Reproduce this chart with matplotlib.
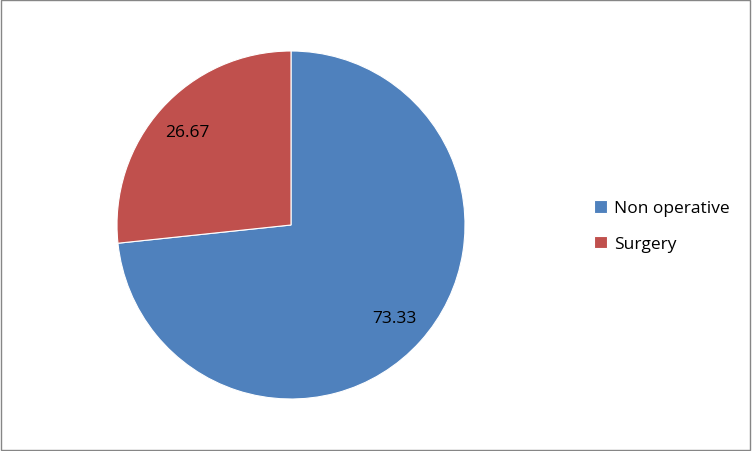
import matplotlib
matplotlib.use("Agg")
from matplotlib import pyplot as plt
from matplotlib.patches import Rectangle

plt.rcParams['font.family'] = ['Open Sans', 'DejaVu Sans']

categories = ['Non operative', 'Surgery']
values = [73.33, 26.67]
colors = ['#4F81BD', '#C0504D']

fig = plt.figure(figsize=(7.52, 4.52), dpi=100)
ax = fig.add_axes([117 / 752, 52 / 452, 348 / 752, 348 / 452])

wedges, texts, autotexts = ax.pie(values, colors=colors, startangle=90, counterclock=False,
                                  autopct=lambda p: '%.2f' % p, pctdistance=0.8,
                                  wedgeprops=dict(linewidth=0.8, edgecolor='white'))
for t in autotexts:
    t.set_fontsize(12.5)
    t.set_color('black')
ax.set_xlim(-1, 1)
ax.set_ylim(-1, 1)
ax.set_aspect('equal')

fig.legend(wedges, categories, loc='center left', bbox_to_anchor=(578 / 752, 225 / 452),
           frameon=False, fontsize=12.5, handlelength=0.75, handleheight=0.75,
           handletextpad=0.45, labelspacing=1.1)

fig.patches.append(Rectangle((0.001, 0.002), 0.997, 0.996, transform=fig.transFigure,
                             fill=False, edgecolor='#868686', linewidth=1))

plt.savefig('out.png', dpi=100)
